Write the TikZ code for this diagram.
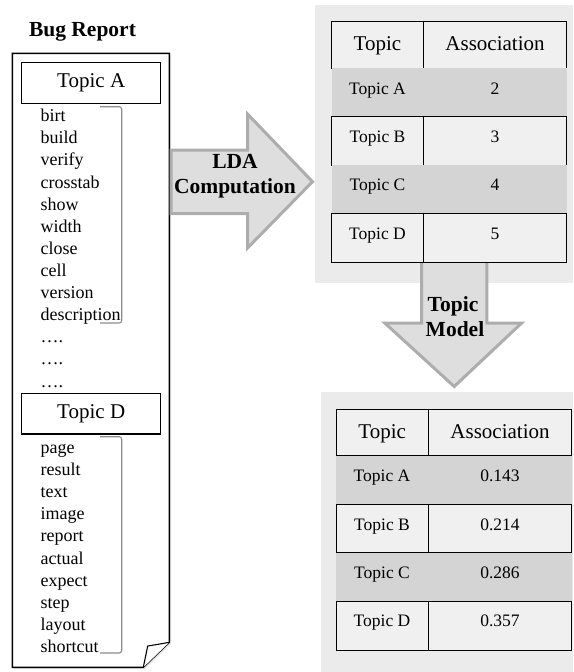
\documentclass[tikz,border=0pt]{standalone}
\usepackage{fontspec}
\setmainfont{Liberation Serif}
\begin{document}
\begin{tikzpicture}[x=1pt,y=-1pt,
  every node/.style={inner sep=0pt, outer sep=0pt},
  wordtext/.style={font=\fontsize{18}{22}\selectfont, anchor=base west},
  titletext/.style={font=\bfseries\fontsize{21.5}{25}\selectfont, align=center},
  topicbox/.style={draw=black, line width=1.3pt, fill=white, minimum width=139pt, minimum height=40.6pt,
    font=\fontsize{21}{25}\selectfont},
  bracketline/.style={draw=black!45, line width=1.1pt, rounded corners=2.5pt},
  panel/.style={fill=black!8, draw=none},
  blockarrow/.style={fill=black!13, draw=black!32, line width=3pt, line join=miter},
  headcell/.style={draw=black, line width=0.9pt, fill=black!6, anchor=north west},
  litecell/.style={draw=black, line width=0.9pt, fill=black!6, anchor=north west},
  darkrow/.style={fill=black!17, draw=none, anchor=north west},
  headtext/.style={font=\fontsize{21}{25}\selectfont, anchor=base},
  celltext/.style={font=\fontsize{17.5}{21}\selectfont, anchor=base},
]
\useasboundingbox (0,0) rectangle (573,672);

% ---------- bug report sheet with folded corner ----------
\path[fill=black!10] (14,55) -- (171,55) -- (171,644) -- (145,669) -- (14,669) -- cycle;
\draw[line width=1.4pt, fill=white, line join=miter]
  (12.3,53.3) -- (169.3,53.3) -- (169.3,642.3) -- (143.3,667.3) -- (12.3,667.3) -- cycle;
\draw[line width=1.1pt, fill=white, line join=round]
  (169.3,642.3) .. controls (160,644) .. (147.7,646) -- (143.3,667.3);
\node[titletext] (bugtitle) at (82.5,32) {Bug Report};

% topic A block
\node[topicbox] (topA) at (91.2,83) {Topic A};
\foreach \w [count=\i from 0] in {birt,build,verify,crosstab,show,width,close,cell,version,description}
  \node[wordtext] (wa\i) at (40.7,121.7+22.1*\i) {\w};
\draw[bracketline] (100,106.7) -- (121.7,106.7) -- (121.7,323) -- (100,323);

% elided topics
\foreach \i in {0,1,2}
  \node[wordtext] (dots\i) at (40.7,342.8+22.1*\i) {….};

% topic D block
\node[topicbox] (topD) at (91.2,413.7) {Topic D};
\foreach \w [count=\i from 0] in {page,result,text,image,report,actual,expect,step,layout,shortcut}
  \node[wordtext] (wd\i) at (40.7,453.3+22.15*\i) {\w};
\draw[bracketline] (100,436.7) -- (121.7,436.7) -- (121.7,653) -- (100,653);

% ---------- LDA computation arrow ----------
\draw[blockarrow] (171,150) -- (247.5,150) -- (247.5,114) -- (312.5,181.7)
  -- (247.5,248) -- (247.5,213.5) -- (171,213.5) -- cycle;
\node[titletext, anchor=base] (lda1) at (235,168.3) {LDA};
\node[titletext, anchor=base] (lda2) at (235,193.3) {Computation};

% ---------- association counts ----------
\path[panel] (315,5) rectangle (573,283.3);

% topic model arrow (sits under the first table)
\draw[blockarrow] (421.5,255) -- (486.8,255) -- (486.8,323.2) -- (521.5,323.2)
  -- (454.2,386.5) -- (385,323.2) -- (421.5,323.2) -- cycle;
\node[titletext, anchor=base] (tm1) at (453,311.7) {Topic};
\node[titletext, anchor=base] (tm2) at (455,336.7) {Model};

% first table
\node[headcell, minimum width=91.6pt, minimum height=46.6pt] (h1a) at (331.7,21.7) {};
\node[headcell, minimum width=143.4pt, minimum height=46.6pt] (h1b) at (423.3,21.7) {};
\node[headtext] at ([yshift=-28.3pt]h1a.north) {Topic};
\node[headtext] at ([yshift=-28.3pt]h1b.north) {Association};

\node[darkrow, minimum width=235pt, minimum height=48.4pt] (r1a) at (331.7,68.3) {};
\node[litecell, minimum width=91.6pt, minimum height=48.3pt] (r1b1) at (331.7,116.7) {};
\node[litecell, minimum width=143.4pt, minimum height=48.3pt] (r1b2) at (423.3,116.7) {};
\node[darkrow, minimum width=235pt, minimum height=48.3pt] (r1c) at (331.7,165) {};
\node[litecell, minimum width=91.6pt, minimum height=49pt] (r1d1) at (331.7,213.3) {};
\node[litecell, minimum width=143.4pt, minimum height=49pt] (r1d2) at (423.3,213.3) {};

\foreach \t/\v/\y in {A/2/68.3, B/3/116.7, C/4/165, D/5/213.3}{
  \node[celltext] at (377.5,\y+25.8) {Topic \t};
  \node[celltext] at (495,\y+25.8) {\v};
}

% ---------- normalised associations ----------
\path[panel] (320.7,391.7) rectangle (573,672);

\node[headcell, minimum width=92.3pt, minimum height=46.4pt] (h2a) at (336,409.3) {};
\node[headcell, minimum width=143.4pt, minimum height=46.4pt] (h2b) at (428.3,409.3) {};
\node[headtext] at ([yshift=-29pt]h2a.north) {Topic};
\node[headtext] at ([yshift=-29pt]h2b.north) {Association};

\node[darkrow, minimum width=235.7pt, minimum height=48.6pt] (r2a) at (336,455.7) {};
\node[litecell, minimum width=92.3pt, minimum height=48.4pt] (r2b1) at (336,504.3) {};
\node[litecell, minimum width=143.4pt, minimum height=48.4pt] (r2b2) at (428.3,504.3) {};
\node[darkrow, minimum width=235.7pt, minimum height=48.3pt] (r2c) at (336,552.7) {};
\node[litecell, minimum width=92.3pt, minimum height=49pt] (r2d1) at (336,601) {};
\node[litecell, minimum width=143.4pt, minimum height=49pt] (r2d2) at (428.3,601) {};

\foreach \t/\v/\y in {A/0.143/455.7, B/0.214/504.3, C/0.286/552.7, D/0.357/601}{
  \node[celltext] at (382,\y+25.8) {Topic \t};
  \node[celltext] at (500,\y+25.8) {\v};
}
\end{tikzpicture}
\end{document}
